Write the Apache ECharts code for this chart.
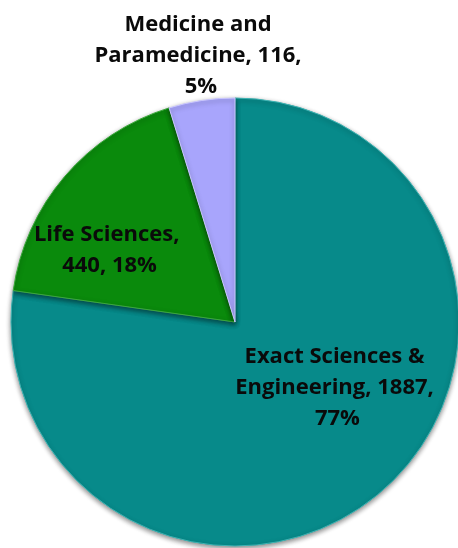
<!DOCTYPE html>
<html>
<head>
<meta charset="utf-8">
<script src="https://cdn.jsdelivr.net/npm/echarts@6/dist/echarts.min.js"></script>
<style>
  html, body { margin: 0; padding: 0; background: #fff; }
  #chart { width: 458px; height: 548px; }
</style>
</head>
<body>
<div id="chart"></div>
<script>
// 数据
const categories = ['Exact Sciences & Engineering', 'Life Sciences', 'Medicine and Paramedicine']
const counts = [1887, 440, 116]
const colors = ['#078a8a', '#0a8a0c', '#a8a5fc']
const edgeColors = ['#3fb3b3', '#3aa83a', '#c9c6ff']
// 标签宽度 / 偏移
const labelWidths = [218, 160, 218]
const labelShift = [[27, -21], [-38, 3], [-17, -153]]

const chart = echarts.init(document.getElementById('chart'))

const option = {
  animation: false,
  series: [
    {
      type: 'pie',
      center: [235, 322],
      radius: 224,
      startAngle: 90,
      percentPrecision: 0,
      itemStyle: {
        shadowBlur: 5,
        shadowColor: 'rgba(0, 0, 0, 0.45)',
        shadowOffsetY: 2,
      },
      label: {
        show: true,
        position: 'inside',
        color: '#0a0a0a',
        fontFamily: 'Open Sans',
        fontWeight: 'bold',
        fontSize: 22,
        lineHeight: 31,
        align: 'center',
        overflow: 'break',
        formatter: '{b}, {c}, {d}%',
      },
      labelLine: { show: false },
      labelLayout: params => {
        const s = labelShift[params.dataIndex]
        return { dx: s[0], dy: s[1] }
      },
      data: categories.map((name, i) => ({
        name: name,
        value: counts[i],
        itemStyle: {
          color: colors[i],
          borderColor: edgeColors[i],
          borderWidth: 1,
        },
        label: { width: labelWidths[i] },
      })),
    },
  ],
}
chart.setOption(option)
</script>
</body>
</html>
